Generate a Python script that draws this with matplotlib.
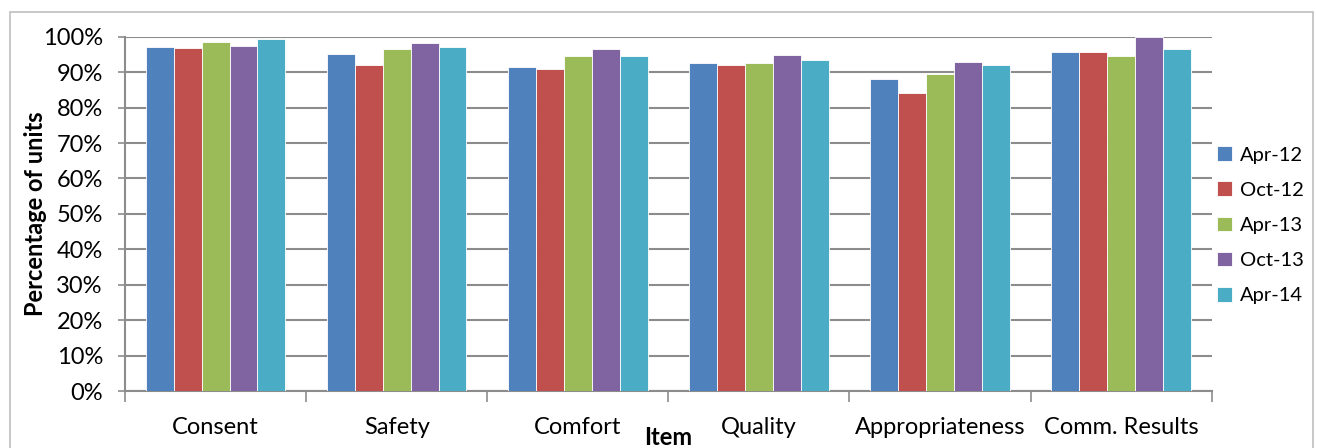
import numpy as np
import matplotlib
matplotlib.use("Agg")
import matplotlib.pyplot as plt
from matplotlib.patches import Rectangle
from matplotlib.ticker import PercentFormatter

plt.rcParams['font.family'] = ['Lato', 'DejaVu Sans']

items = ["Consent", "Safety", "Comfort", "Quality", "Appropriateness", "Comm. Results"]
periods = ["Apr-12", "Oct-12", "Apr-13", "Oct-13", "Apr-14"]
colors = ["#4F81BD", "#C0504D", "#9BBB59", "#8064A2", "#4BACC6"]

apr12 = [97.1, 95.2, 91.4, 92.7, 88.0, 95.7]
oct12 = [96.8, 92.1, 90.9, 92.1, 84.2, 95.7]
apr13 = [98.4, 96.5, 94.6, 92.7, 89.5, 94.7]
oct13 = [97.4, 98.2, 96.5, 94.8, 93.0, 100.0]
apr14 = [99.3, 97.1, 94.7, 93.4, 92.0, 96.6]
series = [apr12, oct12, apr13, oct13, apr14]

fig = plt.figure(figsize=(13.17, 4.48), dpi=100)
ax = fig.add_axes([0.095, 0.127, 0.825, 0.791])

# outer chart frame
fig.patches.append(Rectangle((10 / 1317, -0.1), 1303 / 1317, 1.1 - 12 / 448,
                             transform=fig.transFigure, fill=False,
                             edgecolor="#BFBFBF", linewidth=1.2))

x = np.arange(len(items))
w = 0.154
for i, (vals, name) in enumerate(zip(series, periods)):
    ax.bar(x + (i - 2) * w, vals, width=w, color=colors[i], label=name,
           edgecolor="white", linewidth=0.6, zorder=3)

ax.set_xlim(-0.5, len(items) - 0.5)
ax.set_ylim(0, 100)
ax.set_yticks(np.arange(0, 101, 10))
ax.yaxis.set_major_formatter(PercentFormatter(decimals=0))
ax.yaxis.grid(True, color="#8C8C8C", linewidth=1.5, zorder=0)
ax.set_axisbelow(True)

ax.set_xticks(x)
ax.set_xticklabels(items, fontsize=17)
ax.set_xticks(np.arange(-0.5, len(items), 1), minor=True)
ax.tick_params(axis="x", which="major", length=0, pad=19)
ax.tick_params(axis="x", which="minor", length=8, color="#8C8C8C", width=1.2)
ax.tick_params(axis="y", length=5, color="#8C8C8C", width=1.2, labelsize=17, pad=11)

for side in ["top", "right"]:
    ax.spines[side].set_visible(False)
for side in ["left", "bottom"]:
    ax.spines[side].set_color("#8C8C8C")
    ax.spines[side].set_linewidth(1.5)

ax.set_ylabel("Percentage of units", fontsize=17, fontweight="bold")
ax.yaxis.set_label_coords(-0.072, 0.5)
ax.set_xlabel("Item", fontsize=17, fontweight="bold", labelpad=-9)

ax.legend(loc="center left", bbox_to_anchor=(0.988, 0.468), frameon=False,
          fontsize=14.5, handlelength=0.75, handleheight=0.75, handletextpad=0.4,
          labelspacing=0.88)

fig.savefig("out.png", dpi=100)
